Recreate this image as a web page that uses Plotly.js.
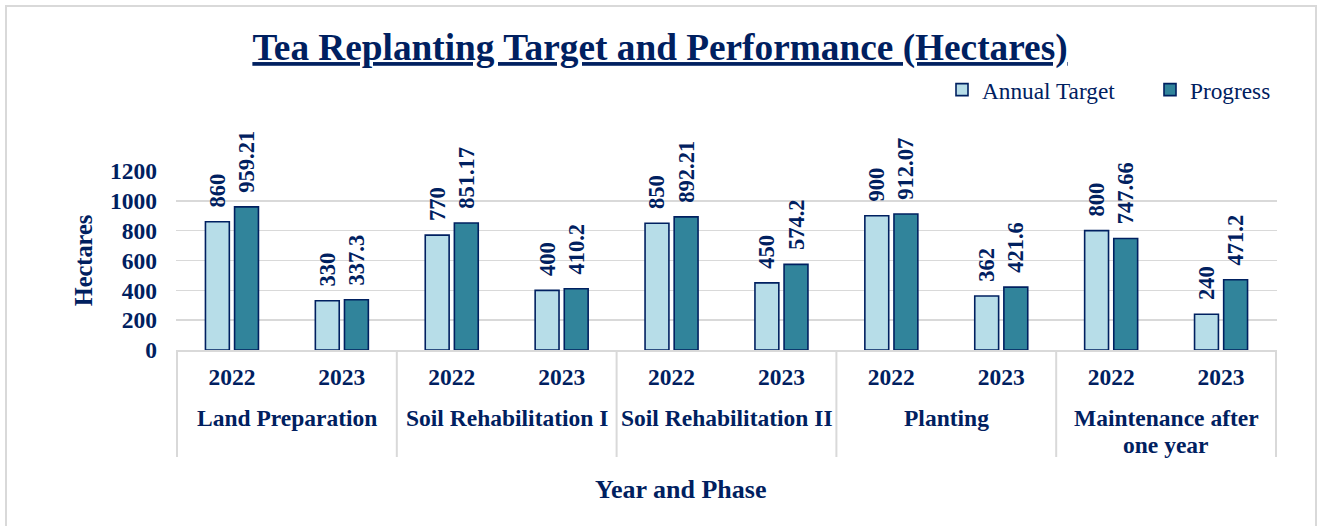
<!DOCTYPE html>
<html>
<head>
<meta charset="utf-8">
<script src="https://cdn.plot.ly/plotly-3.0.1.min.js"></script>
<style>html,body{margin:0;padding:0;background:#fff;}#chart{width:1320px;height:526px;}</style>
</head>
<body>
<div id="chart"></div>
<script>
const phaseNames = ["Land Preparation", "Soil Rehabilitation I", "Soil Rehabilitation II", "Planting", "Maintenance after<br>one year"];
const phases = ["Land Preparation", "Land Preparation", "Soil Rehabilitation I", "Soil Rehabilitation I", "Soil Rehabilitation II", "Soil Rehabilitation II", "Planting", "Planting", "Maintenance after<br>one year", "Maintenance after<br>one year"];
const years = ["2022", "2023", "2022", "2023", "2022", "2023", "2022", "2023", "2022", "2023"];
const annualTarget = [860, 330, 770, 400, 850, 450, 900, 362, 800, 240];
const progress = [959.21, 337.3, 851.17, 410.2, 892.21, 574.2, 912.07, 421.6, 747.66, 471.2];
const yTicks = [0, 200, 400, 600, 800, 1000, 1200];

const navy = "#002060";
const serif = "Liberation Serif, Times New Roman, serif";
const gridGray = "#d9d9d9";

// unique category keys: phase + year
const cats = phases.map((p, i) => p + " | " + years[i]);

function barTrace(name, values, color, legendWidth) {
  const t = {
    type: "bar",
    name: name,
    x: cats,
    y: values,
    text: values.map(v => "\u00a0\u00a0<b>" + v + "</b>"),
    textposition: "outside",
    textangle: -90,
    constraintext: "none",
    cliponaxis: false,
    textfont: {family: serif, size: 22.5, color: navy},
    marker: {color: color, line: {color: navy, width: 1.6}},
    hoverinfo: "skip"
  };
  if (legendWidth) t.legendwidth = legendWidth;
  return t;
}

const traces = [
  barTrace("Annual Target", annualTarget, "#b7dde8", 163),
  barTrace("Progress", progress, "#31849b", 0)
];

// phase labels & dividers, positioned on the category axis
const annotations = [];
const shapes = [];
phaseNames.forEach((p, k) => {
  const first = phases.indexOf(p);
  const last = phases.lastIndexOf(p);
  const mid = (first + last) / 2;
  p.split("<br>").forEach((line, li) => {
    annotations.push({
      xref: "x", yref: "paper", x: mid, y: -(417.5 - 350) / 179,
      yshift: -27 * li,
      text: "<b>" + line + "</b>", showarrow: false,
      xanchor: "center", yanchor: "middle",
      font: {family: serif, size: 23.5, color: navy}
    });
  });
  shapes.push({
    type: "line", xref: "x", yref: "paper",
    x0: first - 0.5, x1: first - 0.5, y0: 0, y1: -(457 - 350) / 179,
    line: {color: gridGray, width: 2}
  });
  if (k === phaseNames.length - 1) {
    shapes.push({
      type: "line", xref: "x", yref: "paper",
      x0: last + 0.5, x1: last + 0.5, y0: 0, y1: -(457 - 350) / 179,
      line: {color: gridGray, width: 2}
    });
  }
});

// x axis title
annotations.push({
  xref: "paper", yref: "paper", x: (680 - 176) / 1101, y: -(489 - 350) / 179,
  text: "<b>Year and Phase</b>", showarrow: false,
  xanchor: "center", yanchor: "middle",
  font: {family: serif, size: 26, color: navy}
});

// outer chart border
shapes.push({
  type: "rect", xref: "paper", yref: "paper",
  x0: -170 / 1101, x1: 1 + 39 / 1101, y0: -(535 - 350) / 179, y1: 1 + 165 / 179,
  line: {color: gridGray, width: 2}, fillcolor: "rgba(0,0,0,0)", layer: "below"
});

const layout = {
  width: 1320, height: 526,
  margin: {l: 176, r: 43, t: 171, b: 176},
  paper_bgcolor: "#ffffff",
  plot_bgcolor: "#ffffff",
  barmode: "group",
  bargap: 0.47,
  bargroupgap: 0.18,
  font: {family: serif, color: navy},
  title: {
    text: "<b><u>Tea Replanting Target and Performance (Hectares)</u></b>",
    font: {family: serif, size: 37.3, color: navy},
    x: 0.5, xanchor: "center", xref: "container",
    y: 1 - 47 / 526, yref: "container", yanchor: "middle"
  },
  legend: {
    orientation: "h",
    x: (942 - 176) / 1101, xanchor: "left",
    y: 1 - 90 / 526, yref: "container", yanchor: "middle",
    font: {family: serif, size: 23.3, color: navy},
    itemwidth: 30,
    bgcolor: "rgba(0,0,0,0)"
  },
  xaxis: {
    type: "category",
    tickvals: cats,
    ticktext: years.map(y => "<b>" + y + "</b>"),
    showgrid: false,
    showline: true,
    linecolor: gridGray,
    linewidth: 2,
    ticks: "",
    ticklabelstandoff: 5,
    tickfont: {family: serif, size: 23.5, color: navy},
    fixedrange: true
  },
  yaxis: {
    range: [0, 1200],
    tickvals: yTicks,
    ticktext: yTicks.map(v => "<b>" + v + "</b>"),
    showgrid: true,
    gridcolor: gridGray,
    gridwidth: 1.5,
    zeroline: false,
    showline: false,
    ticks: "",
    ticklabelstandoff: 18,
    tickfont: {family: serif, size: 23.5, color: navy},
    title: {
      text: "<b>Hectares</b>",
      font: {family: serif, size: 24.4, color: navy},
      standoff: 10
    },
    fixedrange: true
  },
  annotations: annotations,
  shapes: shapes,
  showlegend: true
};

Plotly.newPlot("chart", traces, layout, {displayModeBar: false, staticPlot: true});
</script>
</body>
</html>
